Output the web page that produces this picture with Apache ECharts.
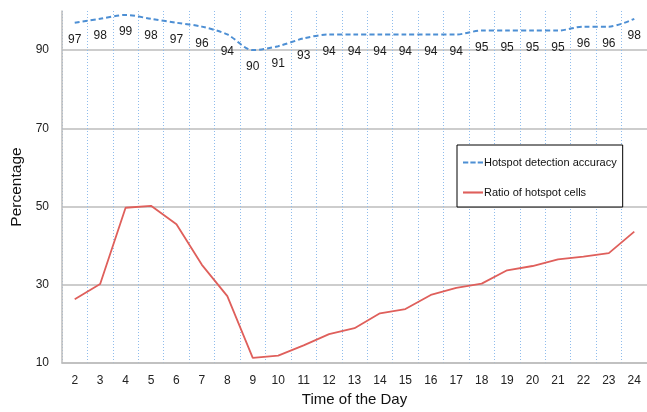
<!DOCTYPE html>
<html>
<head>
<meta charset="utf-8">
<script src="https://cdn.jsdelivr.net/npm/echarts@6/dist/echarts.min.js"></script>
<style>
  html, body { margin: 0; padding: 0; background: #fff; }
  #chart { width: 647px; height: 412px; }
</style>
</head>
<body>
<div id="chart"></div>
<script>
// hours of the day on the x axis
const hours = ["2", "3", "4", "5", "6", "7", "8", "9", "10", "11", "12", "13",
  "14", "15", "16", "17", "18", "19", "20", "21", "22", "23", "24"];

// hotspot detection accuracy (%), labelled under each point
const accuracy = [97, 98, 99, 98, 97, 96, 94, 90, 91, 93, 94, 94,
  94, 94, 94, 94, 95, 95, 95, 95, 96, 96, 98];

// ratio of hotspot cells (%)
const hotspotRatio = [26.3, 30.2, 49.7, 50.2, 45.5, 35.1, 27.1, 11.3, 11.9, 14.5, 17.4, 18.9,
  22.7, 23.8, 27.4, 29.2, 30.3, 33.7, 34.8, 36.5, 37.2, 38.1, 43.6];

const FONT = "Liberation Sans, Arial, sans-serif";
const GRID_GRAY = "#bdbdbd";
const BLUE = "#4d8fd4";
const RED = "#df5f5b";

// legend glyphs: plain line segments, dashed for the accuracy series
const DASH_ICON = "path://M0,0h5v2h-5z M7,0h5v2h-5z M14,0h5v2h-5z";
const LINE_ICON = "path://M0,0h19v2h-19z";

const chart = echarts.init(document.getElementById("chart"));

chart.setOption({
  backgroundColor: "#fff",
  animation: false,
  textStyle: { fontFamily: FONT },
  grid: {
    left: 62,
    right: -3,
    top: 11,
    bottom: 46,
  },
  legend: {
    orient: "vertical",
    left: 457,
    top: 145,
    backgroundColor: "#fff",
    borderColor: "#000",
    borderWidth: 1,
    padding: [12, 6, 9, 6],
    itemWidth: 20,
    itemHeight: 14,
    itemGap: 19,
    textStyle: { fontFamily: FONT, fontSize: 11, color: "#111", padding: [0, 0, 0, -4] },
    data: [
      { name: "Hotspot detection accuracy", icon: DASH_ICON },
      { name: "Ratio of hotspot cells", icon: LINE_ICON },
    ],
  },
  xAxis: {
    type: "category",
    data: hours,
    boundaryGap: true,
    name: "Time of the Day",
    nameLocation: "middle",
    nameGap: 29,
    nameTextStyle: { fontFamily: FONT, fontSize: 15, color: "#111" },
    axisLine: { lineStyle: { color: GRID_GRAY, width: 1.5 } },
    axisTick: { show: false },
    axisLabel: { color: "#222", fontSize: 12, margin: 12, interval: 0 },
    splitLine: {
      show: true,
      interval: 0,
      lineStyle: { color: "#8fbcec", type: [1, 2], width: 1 },
    },
  },
  yAxis: {
    type: "value",
    min: 10,
    max: 100,
    interval: 20,
    name: "Percentage",
    nameLocation: "middle",
    nameGap: 36,
    nameTextStyle: { fontFamily: FONT, fontSize: 15.5, color: "#111" },
    axisLine: { show: true, lineStyle: { color: GRID_GRAY, width: 1.5 } },
    axisTick: { show: false },
    axisLabel: { color: "#222", fontSize: 12, margin: 13, showMaxLabel: false },
    splitLine: {
      show: true,
      lineStyle: {
        color: [GRID_GRAY, GRID_GRAY, GRID_GRAY, GRID_GRAY, GRID_GRAY, "rgba(0,0,0,0)"],
        width: 1.5,
      },
    },
  },
  series: [
    {
      name: "Hotspot detection accuracy",
      type: "line",
      data: accuracy,
      smooth: 0.3,
      symbol: "circle",
      symbolSize: 0,
      showSymbol: true,
      lineStyle: { color: BLUE, width: 2, type: [5, 3] },
      itemStyle: { color: BLUE },
      label: {
        show: true,
        position: "bottom",
        distance: 11,
        fontSize: 12,
        color: "#1a1a1a",
      },
      z: 3,
    },
    {
      name: "Ratio of hotspot cells",
      type: "line",
      data: hotspotRatio,
      symbol: "none",
      lineStyle: { color: RED, width: 1.8 },
      itemStyle: { color: RED },
      z: 3,
    },
  ],
});
</script>
</body>
</html>
